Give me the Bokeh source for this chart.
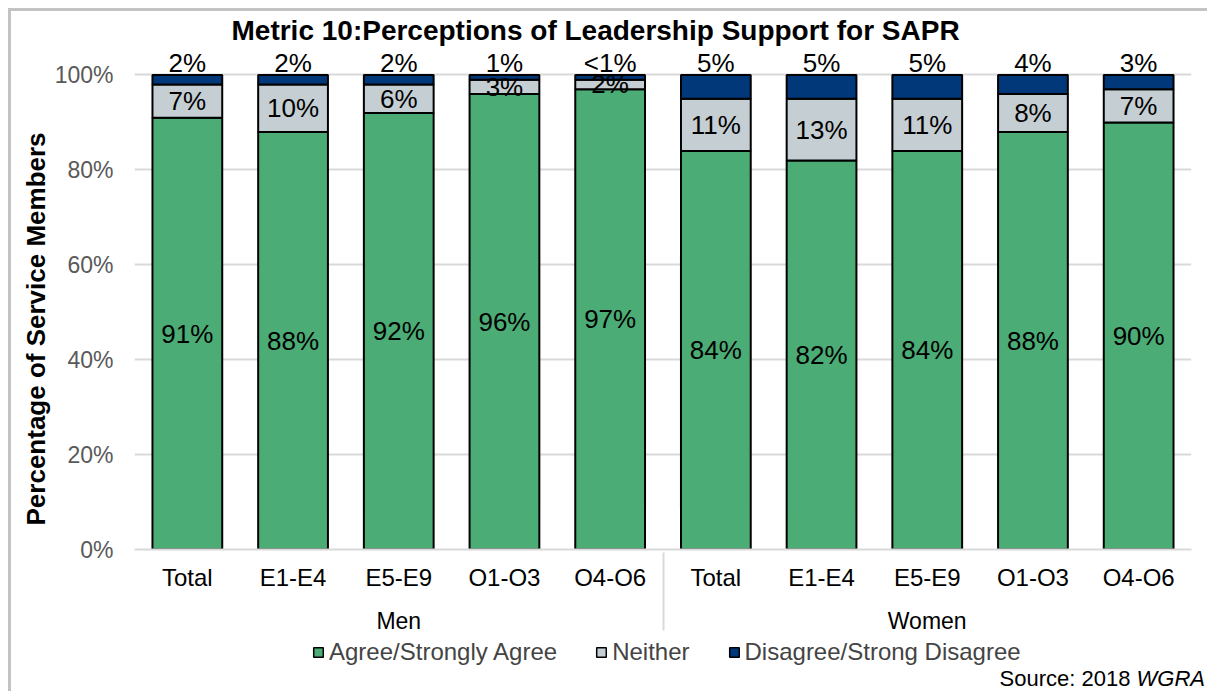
from bokeh.plotting import figure
from bokeh.models import (ColumnDataSource, FactorRange, FixedTicker, NumeralTickFormatter,
                          Legend, LegendItem, Range1d, Title, Div)
from bokeh.layouts import column
from bokeh.core.properties import value
from bokeh.embed import file_html
from bokeh.resources import INLINE

# ---------------- data ----------------
groups = ["Men"] * 5 + ["Women"] * 5
subgroups = ["Total", "E1-E4", "E5-E9", "O1-O3", "O4-O6"] * 2
agree = [91, 88, 92, 96, 97, 84, 82, 84, 88, 90]
neither = [7, 10, 6, 3, 2, 11, 13, 11, 8, 7]
disagree = [2, 2, 2, 1, 1, 5, 5, 5, 4, 3]
agree_labels = ["91%", "88%", "92%", "96%", "97%", "84%", "82%", "84%", "88%", "90%"]
neither_labels = ["7%", "10%", "6%", "3%", "2%", "11%", "13%", "11%", "8%", "7%"]
disagree_labels = ["2%", "2%", "2%", "1%", "<1%", "5%", "5%", "5%", "4%", "3%"]
series_names = ["Agree/Strongly Agree", "Neither", "Disagree/Strong Disagree"]
colors = ["#4BAC76", "#C4CED3", "#00387A"]
y_ticks = [0, 0.2, 0.4, 0.6, 0.8, 1.0]

FONT = "Liberation Sans"

x = list(zip(groups, subgroups))
a = [v / 100 for v in agree]
n = [v / 100 for v in neither]
d = [v / 100 for v in disagree]
src = ColumnDataSource(dict(
    x=x, agree=a, neither=n, disagree=d,
    y_agree=[v / 2 for v in a],
    y_neither=[ai + ni / 2 for ai, ni in zip(a, n)],
    y_dis=[ai + ni + di for ai, ni, di in zip(a, n, d)],
    l_agree=agree_labels, l_neither=neither_labels, l_dis=disagree_labels,
))

W = 1196
p = figure(
    x_range=FactorRange(*x, factor_padding=0, group_padding=0, range_padding=0),
    y_range=Range1d(0, 1.06),
    width=W, height=626,
    output_backend="svg", toolbar_location=None,
    min_border_left=123, min_border_right=16, min_border_bottom=88, min_border_top=33,
)
p.outline_line_color = None

renderers = p.vbar_stack(["agree", "neither", "disagree"], x="x", width=0.66, source=src,
                         fill_color=colors, line_color="black", line_width=2)

lbl_kw = dict(source=src, text_font=value(FONT), text_font_size="26px", text_color="black",
              text_align="center", text_baseline="middle")
p.text(x="x", y="y_agree", text="l_agree", **lbl_kw)
p.text(x="x", y="y_neither", text="l_neither", **lbl_kw)
p.text(x="x", y="y_dis", text="l_dis", y_offset=-12, **lbl_kw)

# title
p.title.text = "Metric 10:Perceptions of Leadership Support for SAPR"
p.title.text_font = FONT
p.title.text_font_size = "28px"
p.title.text_font_style = "bold"
p.title.text_color = "black"
p.title.align = "left"
p.title.offset = 97
p.title.standoff = 2

# y axis
p.yaxis.ticker = FixedTicker(ticks=y_ticks)
p.yaxis.formatter = NumeralTickFormatter(format="0%")
p.yaxis.major_label_text_font = FONT
p.yaxis.major_label_text_font_size = "23px"
p.yaxis.major_label_text_color = "#595959"
p.yaxis.axis_line_color = None
p.yaxis.major_tick_line_color = None
p.yaxis.minor_tick_line_color = None
p.yaxis.major_label_standoff = 15
p.ygrid.ticker = FixedTicker(ticks=y_ticks)
p.ygrid.grid_line_color = "#d9d9d9"
p.ygrid.grid_line_width = 2
p.xgrid.grid_line_color = None

p.add_layout(Title(text="Percentage of Service Members", align="left", offset=24,
                   text_font=FONT, text_font_size="26px", text_font_style="bold",
                   text_color="black", standoff=2), "left")

# x axis
p.xaxis.axis_line_color = "#d9d9d9"
p.xaxis.axis_line_width = 2
p.xaxis.major_tick_line_color = None
p.xaxis.major_tick_out = 0
p.xaxis.major_label_text_font = FONT
p.xaxis.major_label_text_font_size = "24px"
p.xaxis.major_label_text_color = "black"
p.xaxis.major_label_standoff = 14
p.xaxis.group_text_font = FONT
p.xaxis.group_text_font_size = "23px"
p.xaxis.group_text_font_style = "normal"
p.xaxis.group_text_color = "black"
p.xaxis.separator_line_color = "#d9d9d9"
p.xaxis.separator_line_width = 2

# legend strip: its own small figure; its keys come from hidden copies of the same bar stack
pl = figure(width=W, height=30, output_backend="svg", toolbar_location=None,
            x_range=FactorRange(*x, factor_padding=0, group_padding=0, range_padding=0),
            y_range=Range1d(5, 6), x_axis_location=None, y_axis_location=None,
            min_border_left=0, min_border_right=0, min_border_top=0, min_border_bottom=0)
pl.grid.visible = False
pl.outline_line_color = None
key_renderers = pl.vbar_stack(["agree", "neither", "disagree"], x="x", width=0.66, source=src,
                              fill_color=colors, line_color="black", line_width=1.5)
for r in key_renderers:
    r.visible = False
legend = Legend(items=[LegendItem(label=nm, renderers=[r]) for nm, r in zip(series_names, key_renderers)],
                location=(178, 1), orientation="horizontal",
                glyph_width=12, glyph_height=12, label_standoff=5, spacing=38,
                label_text_font=FONT, label_text_font_size="24px", label_height=24,
                padding=0, margin=0, background_fill_alpha=0, border_line_color=None,
                inactive_fill_alpha=0)
pl.add_layout(legend)

# source note
source_note = Div(text="Source: 2018 <i>WGRA</i>", width=W, height=24, margin=(0, 0, 0, 0),
                  styles={"font-family": FONT, "font-size": "22px", "text-align": "right",
                          "line-height": "24px", "color": "black", "padding-right": "2px"})

layout = column(p, pl, source_note, spacing=0,
                styles={"margin-left": "8px", "margin-top": "8px",
                        "border-left": "3px solid #c3c3c3", "border-top": "3px solid #c3c3c3"})

open("out.html", "w").write(file_html(layout, INLINE))
